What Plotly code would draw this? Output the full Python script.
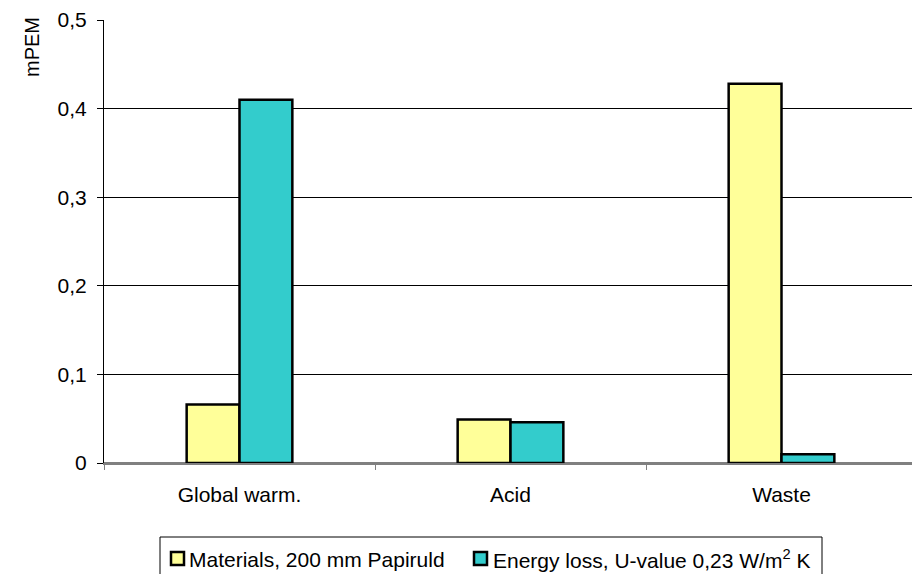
import plotly.graph_objects as go

categories = ["Global warm.", "Acid", "Waste"]
materials = [0.066, 0.049, 0.428]
energy_loss = [0.410, 0.046, 0.010]
series_names = ["Materials, 200 mm Papiruld", "Energy loss, U-value 0,23 W/m<sup>2</sup> K"]
series_colors = ["#FFFF99", "#33CCCC"]
y_tickvals = [0, 0.1, 0.2, 0.3, 0.4, 0.5]
y_ticktext = ["0", "0,1", "0,2", "0,3", "0,4", "0,5"]

FONT = "Liberation Sans, Arial, sans-serif"
W, H = 912, 574
L, R, T, B = 104, 0, 20, 111
PW, PH = W - L - R, H - T - B


def px(x):
    """Pixel column -> paper x."""
    return (x - L) / PW


def py(y):
    """Pixel row -> paper y."""
    return (H - B - y) / PH


fig = go.Figure()
for name, vals, col in zip(series_names, [materials, energy_loss], series_colors):
    fig.add_trace(go.Bar(
        x=categories, y=vals, name=name, showlegend=False,
        marker=dict(color=col, line=dict(color="black", width=2.5)),
    ))

# Boxed legend below the plot: small outlined swatch followed directly by text
shapes = [dict(type="rect", xref="paper", yref="paper",
               x0=px(160), x1=px(822), y0=py(590), y1=py(537),
               line=dict(color="black", width=1), fillcolor="white")]
annotations = []
for sx, tx, name, col in zip([171, 474], [187, 491], series_names, series_colors):
    shapes.append(dict(type="rect", xref="paper", yref="paper",
                       x0=px(sx), x1=px(sx + 13), y0=py(565), y1=py(552),
                       line=dict(color="black", width=2.5), fillcolor=col))
    annotations.append(dict(text=name, xref="paper", yref="paper",
                            x=px(tx), y=py(559), xanchor="left", yanchor="middle",
                            showarrow=False, font=dict(size=21)))

annotations.append(dict(
    text="mPEM", textangle=-90, xref="paper", yref="paper",
    x=px(32), y=py(47), xanchor="center", yanchor="middle",
    showarrow=False, font=dict(size=20),
))

fig.update_layout(
    width=W, height=H,
    margin=dict(l=L, r=R, t=T, b=B, autoexpand=False),
    paper_bgcolor="white", plot_bgcolor="white",
    font=dict(family=FONT, size=21, color="black"),
    barmode="group", bargap=0.61, bargroupgap=0,
    showlegend=False,
    shapes=shapes,
    annotations=annotations,
)

fig.update_xaxes(
    range=[-0.5, -0.5 + PW / 271],
    tickson="boundaries", ticks="outside", ticklen=5, tickcolor="#808080",
    showline=True, linecolor="#808080", linewidth=2,
    showgrid=False, tickfont=dict(size=21), ticklabelstandoff=12,
)
fig.update_yaxes(
    range=[0, 0.5], tickvals=y_tickvals, ticktext=y_ticktext,
    ticks="outside", ticklen=6, tickcolor="black",
    showline=True, linecolor="black", linewidth=1,
    showgrid=True, gridcolor="black", gridwidth=1,
    zeroline=True, zerolinecolor="#808080", zerolinewidth=2,
    ticklabelstandoff=6, tickfont=dict(size=21),
)

fig.write_html("out.html")
